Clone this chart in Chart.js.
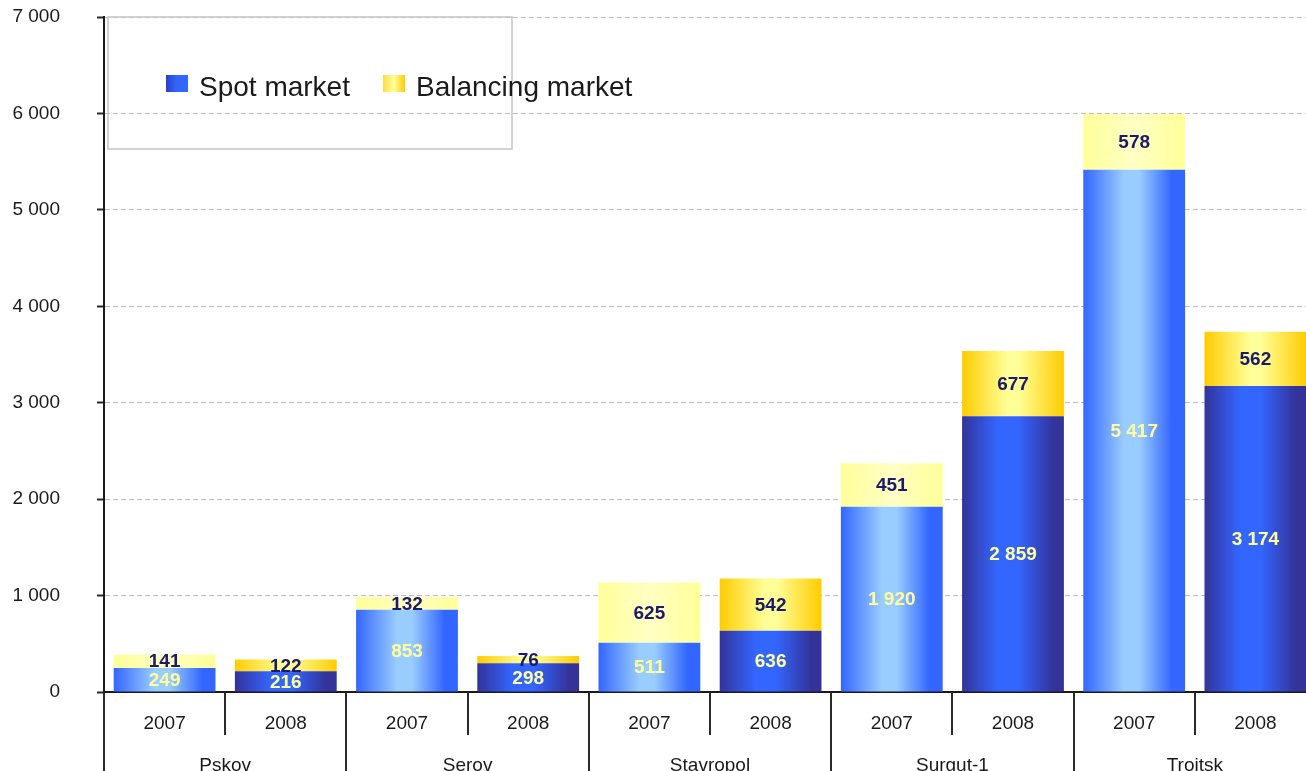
<!DOCTYPE html>
<html>
<head>
<meta charset="utf-8">
<title>Spot and balancing market</title>
<script src="https://cdn.jsdelivr.net/npm/chart.js@4.4.1/dist/chart.umd.min.js"></script>
<style>
  html, body { margin: 0; padding: 0; background: #fff; overflow: hidden; }
  #wrap { width: 1320px; height: 800px; }
</style>
</head>
<body>
<div id="wrap"><canvas id="marketChart" width="1320" height="800"></canvas></div>
<script>
// Plants (outer axis) and years (inner axis)
const cities = ['Pskov', 'Serov', 'Stavropol', 'Surgut-1', 'Troitsk'];
const years = ['2007', '2008', '2007', '2008', '2007', '2008', '2007', '2008', '2007', '2008'];

// Volumes for each plant/year
const spotMarket = [249, 216, 853, 298, 511, 636, 1920, 2859, 5417, 3174];
const balancingMarket = [141, 122, 132, 76, 625, 542, 451, 677, 578, 562];

// Y axis ticks
const yTicks = [0, 1000, 2000, 3000, 4000, 5000, 6000, 7000];

const BAR_PCT = 0.84;

// number with a space as thousands separator
function fmt(v) {
  return String(v).replace(/\B(?=(\d{3})+(?!\d))/g, ' ');
}

// horizontal gradient across one bar
function barGradient(context, stops) {
  const chart = context.chart;
  const xScale = chart.scales.x;
  if (!xScale || !chart.chartArea) return stops[0][1];
  const cx = xScale.getPixelForValue(context.dataIndex);
  const half = xScale.width / years.length * BAR_PCT / 2;
  const g = chart.ctx.createLinearGradient(cx - half, 0, cx + half, 0);
  stops.forEach(s => g.addColorStop(s[0], s[1]));
  return g;
}

const spot2007 = [[0, '#3366ff'], [0.4, '#99ccff'], [0.55, '#99ccff'], [0.87, '#3366ff'], [1, '#3366ff']];
const spot2008 = [[0, '#333399'], [0.35, '#3366ff'], [0.55, '#3366ff'], [0.9, '#333399'], [1, '#333399']];
const bal2007 = [[0, '#ffff99'], [0.5, '#ffffc4'], [1, '#ffff99']];
const bal2008 = [[0, '#ffcc00'], [0.45, '#ffff99'], [0.55, '#ffff99'], [1, '#ffcc00']];

// value labels, separators and legend box
const decorPlugin = {
  id: 'decor',
  afterDatasetsDraw(chart) {
    const ctx = chart.ctx;
    ctx.save();
    ctx.font = 'bold 19px Arial, "Liberation Sans", sans-serif';
    ctx.textAlign = 'center';
    ctx.textBaseline = 'middle';
    chart.data.datasets.forEach((ds, i) => {
      const meta = chart.getDatasetMeta(i);
      ctx.fillStyle = i === 0 ? '#ffff99' : '#1a1a6e';
      meta.data.forEach((bar, j) => {
        const p = bar.getProps(['x', 'y', 'base'], true);
        ctx.fillText(fmt(ds.data[j]), p.x, (p.y + p.base) / 2 + 1);
      });
    });
    ctx.restore();
  },
  afterDraw(chart) {
    const ctx = chart.ctx;
    const area = chart.chartArea;
    const xScale = chart.scales.x;
    ctx.save();
    // category separators under the x axis
    ctx.strokeStyle = '#2a2a2a';
    ctx.lineWidth = 2;
    for (let i = 0; i <= years.length; i++) {
      const x = Math.round(xScale.getPixelForValue(i - 0.5));
      ctx.beginPath();
      ctx.moveTo(x, area.bottom);
      ctx.lineTo(x, i % 2 === 0 ? chart.height : area.bottom + 43);
      ctx.stroke();
    }
    // legend box
    const bx = area.left + 4, by = area.top;
    ctx.strokeStyle = '#c4c4c4';
    ctx.lineWidth = 1.5;
    ctx.strokeRect(bx, by, 404, 132);
    const items = [
      { text: 'Spot market', x: bx + 58, stops: [[0, '#2a40c8'], [0.5, '#3366ff'], [1, '#3366ff']] },
      { text: 'Balancing market', x: bx + 275, stops: [[0, '#ffdd44'], [0.5, '#ffff99'], [1, '#ffcc00']] }
    ];
    ctx.font = '28px Arial, "Liberation Sans", sans-serif';
    ctx.textAlign = 'left';
    ctx.textBaseline = 'alphabetic';
    items.forEach(it => {
      const g = ctx.createLinearGradient(it.x, 0, it.x + 22, 0);
      it.stops.forEach(s => g.addColorStop(s[0], s[1]));
      ctx.fillStyle = g;
      ctx.fillRect(it.x, by + 58, 22, 17);
      ctx.fillStyle = '#1a1a1a';
      ctx.fillText(it.text, it.x + 33, by + 79);
    });
    ctx.restore();
  }
};

const ctx = document.getElementById('marketChart').getContext('2d');

new Chart(ctx, {
  type: 'bar',
  data: {
    labels: years,
    datasets: [
      {
        label: 'Spot market',
        data: spotMarket,
        backgroundColor: c => barGradient(c, c.dataIndex % 2 === 0 ? spot2007 : spot2008),
        borderWidth: 0
      },
      {
        label: 'Balancing market',
        data: balancingMarket,
        backgroundColor: c => barGradient(c, c.dataIndex % 2 === 0 ? bal2007 : bal2008),
        borderWidth: 0
      }
    ]
  },
  options: {
    responsive: false,
    animation: false,
    devicePixelRatio: 1,
    barPercentage: BAR_PCT,
    categoryPercentage: 1,
    layout: { padding: { top: 17, right: 4, left: 0, bottom: 0 } },
    plugins: {
      legend: { display: false },
      tooltip: { enabled: false }
    },
    scales: {
      x: {
        stacked: true,
        grid: { display: false },
        border: { display: true, color: '#1a1a1a', width: 2 },
        ticks: {
          color: '#1a1a1a',
          font: { family: 'Arial, "Liberation Sans", sans-serif', size: 19 },
          padding: 12,
          maxRotation: 0,
          autoSkip: false
        },
        afterFit(scale) { scale.height = 45; }
      },
      x2: {
        type: 'category',
        labels: cities,
        position: 'bottom',
        offset: true,
        grid: { display: false },
        border: { display: false },
        ticks: {
          color: '#1a1a1a',
          font: { family: 'Arial, "Liberation Sans", sans-serif', size: 19 },
          padding: 9,
          maxRotation: 0,
          autoSkip: false
        },
        afterFit(scale) { scale.height = 63; }
      },
      y: {
        stacked: true,
        min: 0,
        max: 7000,
        afterBuildTicks(scale) {
          scale.ticks = yTicks.map(v => ({ value: v }));
        },
        grid: {
          color: '#bdbdbd',
          lineWidth: 1,
          tickLength: 7,
          tickColor: '#2a2a2a',
          tickWidth: 2
        },
        border: { display: true, color: '#1a1a1a', width: 2, dash: [5, 3] },
        ticks: {
          color: '#1a1a1a',
          font: { family: 'Arial, "Liberation Sans", sans-serif', size: 19 },
          padding: 37,
          callback: v => fmt(v)
        },
        afterFit(scale) {
          scale.width = 104;
          scale.paddingTop = 0;
          scale.paddingBottom = 0;
        }
      }
    }
  },
  plugins: [decorPlugin]
});
</script>
</body>
</html>
